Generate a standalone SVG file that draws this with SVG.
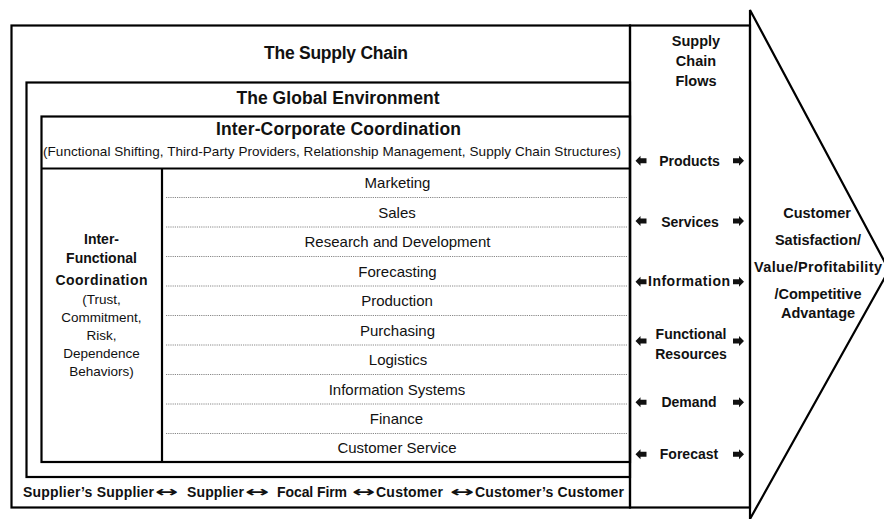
<svg xmlns="http://www.w3.org/2000/svg" width="884" height="519" viewBox="0 0 884 519">
<style>
.box{fill:none;stroke:#000;stroke-width:2.2}
.dot{stroke:#888;stroke-width:1;stroke-dasharray:1.2 1}
text{font-family:"Liberation Sans",Arial,sans-serif;fill:#111;text-anchor:middle}
.h{font-weight:bold;font-size:17.5px}
.row{font-size:15px}
.b14{font-weight:bold;font-size:14px}
.bt{font-weight:bold;font-size:14px;text-anchor:start}
.dbl{font-family:"DejaVu Sans",sans-serif;font-weight:bold;font-size:15px;text-anchor:start}
.r13{font-size:13.5px}
.fl{font-weight:bold;font-size:14.5px}
.arr{fill:#111}
</style>
<defs>
<path id="la" d="M-5.5,0 L-0.5,-5 L-0.5,-2.5 L5.5,-2.5 L5.5,2.5 L-0.5,2.5 L-0.5,5 Z"/>
<path id="ra" d="M5.5,0 L0.5,-5 L0.5,-2.5 L-5.5,-2.5 L-5.5,2.5 L0.5,2.5 L0.5,5 Z"/>
</defs>
<rect width="884" height="519" fill="#fff"/>

<g id="supply-chain">
<rect class="box" x="11.5" y="25.5" width="618.5" height="482"/>
<text class="h" x="336" y="59" textLength="144">The Supply Chain</text>
</g>

<g id="chain-members">
<text class="bt" x="23" y="497" textLength="131">Supplier’s Supplier</text>
<text class="dbl" x="155" y="497" textLength="23" lengthAdjust="spacingAndGlyphs">↔</text>
<text class="bt" x="187" y="497" textLength="57">Supplier</text>
<text class="dbl" x="245" y="497" textLength="24" lengthAdjust="spacingAndGlyphs">↔</text>
<text class="bt" x="277" y="497" textLength="70">Focal Firm</text>
<text class="dbl" x="352" y="497" textLength="23" lengthAdjust="spacingAndGlyphs">↔</text>
<text class="bt" x="376" y="497" textLength="67">Customer</text>
<text class="dbl" x="450" y="497" textLength="24" lengthAdjust="spacingAndGlyphs">↔</text>
<text class="bt" x="475" y="497" textLength="149">Customer’s Customer</text>
</g>

<g id="global-environment">
<rect class="box" x="26.5" y="82.5" width="603.5" height="394.5"/>
<text class="h" x="338" y="104" textLength="203">The Global Environment</text>
</g>

<g id="inter-corporate">
<rect class="box" x="41.5" y="116.5" width="588.5" height="345.5"/>
<line class="box" x1="41.5" y1="168.5" x2="630" y2="168.5"/>
<text class="h" x="338.5" y="135" textLength="245">Inter-Corporate Coordination</text>
<text class="r13" x="332" y="155.5" textLength="578">(Functional Shifting, Third-Party Providers, Relationship Management, Supply Chain Structures)</text>
</g>

<g id="inter-functional">
<line class="box" x1="162" y1="168.5" x2="162" y2="462"/>
<text class="b14" x="101.5" y="243.5">Inter-</text>
<text class="b14" x="101.5" y="263">Functional</text>
<text class="b14" x="101.5" y="284.5" textLength="92">Coordination</text>
<text class="r13" x="101.5" y="303.5">(Trust,</text>
<text class="r13" x="101.5" y="321.5">Commitment,</text>
<text class="r13" x="101.5" y="340">Risk,</text>
<text class="r13" x="101.5" y="358">Dependence</text>
<text class="r13" x="101.5" y="375.5">Behaviors)</text>
</g>

<g id="functions">
<line class="dot" x1="166" y1="197.5" x2="628" y2="197.5"/>
<line class="dot" x1="166" y1="227" x2="628" y2="227"/>
<line class="dot" x1="166" y1="256.5" x2="628" y2="256.5"/>
<line class="dot" x1="166" y1="286" x2="628" y2="286"/>
<line class="dot" x1="166" y1="315.5" x2="628" y2="315.5"/>
<line class="dot" x1="166" y1="345" x2="628" y2="345"/>
<line class="dot" x1="166" y1="374.5" x2="628" y2="374.5"/>
<line class="dot" x1="166" y1="404" x2="628" y2="404"/>
<line class="dot" x1="166" y1="433.5" x2="628" y2="433.5"/>
<text class="row" x="397.5" y="188">Marketing</text>
<text class="row" x="397" y="217.5">Sales</text>
<text class="row" x="397.5" y="247">Research and Development</text>
<text class="row" x="397.5" y="276.5">Forecasting</text>
<text class="row" x="397" y="306">Production</text>
<text class="row" x="397.5" y="335.5">Purchasing</text>
<text class="row" x="398" y="365">Logistics</text>
<text class="row" x="397" y="394.5">Information Systems</text>
<text class="row" x="396.5" y="424">Finance</text>
<text class="row" x="397" y="453">Customer Service</text>
</g>

<g id="flows">
<rect class="box" x="630" y="25.5" width="120" height="482"/>
<text class="fl" x="696" y="45.5">Supply</text>
<text class="fl" x="696" y="65.5">Chain</text>
<text class="fl" x="696" y="86">Flows</text>
<text class="b14" x="689.5" y="165.5">Products</text>
<text class="b14" x="690" y="226.5">Services</text>
<text class="b14" x="689" y="286" textLength="82">Information</text>
<text class="b14" x="691" y="339">Functional</text>
<text class="b14" x="691" y="359">Resources</text>
<text class="b14" x="689" y="407">Demand</text>
<text class="b14" x="689" y="459">Forecast</text>
</g>

<g id="connectors">
<use class="arr" href="#la" x="641" y="160.7"/>
<use class="arr" href="#ra" x="738.5" y="160.7"/>
<use class="arr" href="#la" x="641" y="221"/>
<use class="arr" href="#ra" x="738.5" y="221"/>
<use class="arr" href="#la" x="641" y="281.7"/>
<use class="arr" href="#ra" x="738.5" y="281.7"/>
<use class="arr" href="#la" x="641" y="341"/>
<use class="arr" href="#ra" x="738.5" y="341"/>
<use class="arr" href="#la" x="641" y="402.3"/>
<use class="arr" href="#ra" x="738.5" y="402.3"/>
<use class="arr" href="#la" x="641" y="454.3"/>
<use class="arr" href="#ra" x="738.5" y="454.3"/>
</g>

<g id="customer-value">
<polygon class="box" points="750,10 889,270 750,519"/>
<text class="fl" x="817" y="217.5">Customer</text>
<text class="fl" x="818" y="245">Satisfaction/</text>
<text class="fl" x="818" y="272" textLength="128">Value/Profitability</text>
<text class="fl" x="818" y="298.5">/Competitive</text>
<text class="fl" x="818" y="318">Advantage</text>
</g>
</svg>
